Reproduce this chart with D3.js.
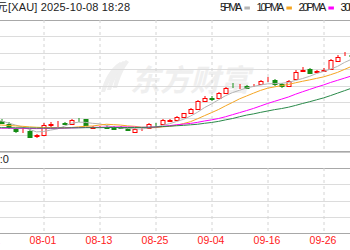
<!DOCTYPE html>
<html>
<head>
<meta charset="utf-8">
<script src="https://cdn.jsdelivr.net/npm/d3@7"></script>
<style>
  body { margin: 0; background: #fff; }
  svg { display: block; }
</style>
</head>
<body>
<svg id="drawing_region"></svg>
<script>
// daily candles, 07-22 .. 10-02
const dates = ["07-22","07-23","07-24","07-25","07-28","07-29","07-30","07-31","08-01","08-04",
  "08-05","08-06","08-07","08-08","08-11","08-12","08-13","08-14","08-15","08-18",
  "08-19","08-20","08-21","08-22","08-25","08-26","08-27","08-28","08-29","09-01",
  "09-02","09-03","09-04","09-05","09-08","09-09","09-10","09-11","09-12","09-15",
  "09-16","09-17","09-18","09-19","09-22","09-23","09-24","09-25","09-26","09-29",
  "09-30","10-01","10-02"];
const opens = [3395,3431,3420,3396,3359,3358,3349,3309,3314,3393,
  3404,3407,3398,3429,3432,3369,3374,3376,3374,3374,
  3366,3342,3359,3366,3393,3398,3420,3427,3451,3481,
  3506,3567,3589,3586,3627,3686,3674,3674,3676,3689,
  3718,3720,3689,3679,3726,3788,3799,3779,3786,3799,
  3862,3909,3907];
const highs = [3433,3438,3432,3410,3369,3374,3358,3328,3402,3410,
  3420,3413,3435,3442,3438,3383,3380,3388,3380,3380,
  3372,3369,3372,3402,3405,3435,3435,3453,3482,3515,
  3574,3600,3600,3633,3669,3698,3691,3684,3691,3720,
  3739,3731,3698,3720,3790,3812,3808,3797,3805,3874,
  3900,3929,3918];
const lows = [3385,3381,3398,3361,3334,3330,3293,3295,3310,3376,
  3378,3391,3391,3413,3383,3361,3365,3359,3354,3360,
  3348,3337,3350,3361,3376,3391,3409,3422,3447,3476,
  3501,3559,3570,3581,3623,3662,3658,3658,3667,3684,
  3706,3680,3665,3673,3720,3779,3764,3772,3779,3794,
  3856,3896,3889];
const closes = [3431,3387,3407,3374,3349,3361,3300,3314,3391,3398,
  3407,3398,3427,3425,3391,3374,3376,3372,3359,3366,
  3354,3364,3363,3396,3388,3427,3424,3447,3476,3508,
  3567,3591,3584,3623,3660,3682,3678,3665,3680,3713,
  3722,3691,3676,3715,3781,3792,3770,3783,3790,3867,
  3891,3913,3899];

// moving averages
const ma5 = [3428,3425,3420,3405,3390,3376,3358,3340,3343,3353,
  3362,3382,3404,3411,3410,3403,3399,3388,3374,3369,
  3365,3363,3361,3369,3373,3388,3400,3416,3432,3456,
  3484,3518,3545,3575,3605,3628,3645,3662,3673,3684,
  3692,3694,3696,3703,3717,3731,3747,3768,3783,3800,
  3820,3849,3872];
const ma10 = [3395,3393,3390,3387,3384,3381,3377,3374,3372,3371,
  3369,3370,3372,3377,3381,3383,3390,3396,3393,3390,
  3384,3381,3374,3372,3371,3377,3381,3389,3401,3415,
  3436,3459,3481,3504,3531,3556,3582,3603,3624,3644,
  3660,3670,3679,3688,3700,3711,3721,3732,3743,3759,
  3776,3798,3820];
const ma20 = [3368,3368,3367,3367,3366,3366,3365,3364,3365,3366,
  3367,3368,3369,3371,3372,3373,3374,3375,3376,3377,
  3376,3375,3373,3374,3376,3380,3386,3392,3397,3402,
  3410,3420,3428,3438,3451,3466,3481,3496,3512,3530,
  3548,3564,3580,3596,3616,3634,3651,3668,3684,3702,
  3718,3734,3750];
const ma30 = [3372,3372,3371,3371,3370,3370,3369,3368,3368,3368,
  3369,3369,3370,3370,3371,3371,3371,3372,3372,3372,
  3372,3372,3373,3374,3376,3379,3382,3385,3388,3392,
  3396,3403,3409,3417,3428,3438,3451,3463,3472,3483,
  3493,3503,3511,3521,3534,3548,3561,3575,3589,3606,
  3624,3642,3660];

const tickLabels = ["07-22","08-01","08-13","08-25","09-04","09-16","09-26"];
const maNames = ["5PMA","10PMA","20PMA","30PMA"];
const volumes = [];   // volume panel is empty, header shows 0
const titleName = "黄金美元";
const titleRest = "[XAU] 2025-10-08 18:28";

const W = 350, H = 250;
const maColors = ["#b4b4b4", "#f5a623", "#ff00ff", "#2a8a4a"];
const upColor = "#ff0000", downColor = "#148c14";

const svg = d3.select('#drawing_region')
    .attr('width', W)
    .attr('height', H)
    .style('font-family', 'SimSun, "Liberation Sans", "Noto Sans CJK SC", sans-serif');

const main = {top: 20, bottom: 151};
const vol = {top: 168, bottom: 233, header: 151};

const x = d3.scalePoint()
    .domain(dates)
    .range([-12.5, -12.5 + 7 * (dates.length - 1)]);

const y = d3.scaleLinear()
    .domain([3200, 4160])
    .range([main.bottom, main.top]);

const yVol = d3.scaleLinear()
    .domain([0, 4])
    .range([vol.bottom, vol.top]);

// watermark
const wm = svg.append('g').attr('fill', '#efefef').attr('stroke', 'none');
[0, 1, 2].forEach(k => {
    wm.append('path')
        .attr('d', `M${101 + k * 6},${92 - k * 2} C${104 + k * 6},${80 - k * 3} ${110 + k * 5},${68 - k * 2} ${120 + k * 3},${62 - k}
                    L${123 + k * 3},${64 - k} C${114 + k * 5},${72 - k * 2} ${108 + k * 6},${83 - k * 3} ${105 + k * 6},${92 - k * 2} Z`);
});
wm.append('text')
    .attr('x', 130)
    .attr('y', 91)
    .style('font-family', '"Noto Sans CJK SC", sans-serif')
    .style('font-size', '30px')
    .style('font-weight', 'bold')
    .style('font-style', 'italic')
    .text('东方财富');

// horizontal grid
const grid = svg.append('g');
const priceLines = d3.range(0, 9).map(i => 3200 + i * 120);
grid.selectAll('.hp')
    .data(priceLines)
    .enter()
    .append('line')
    .attr('x1', 0).attr('x2', W)
    .attr('y1', d => Math.round(y(d)) + 0.5)
    .attr('y2', d => Math.round(y(d)) + 0.5)
    .attr('stroke', (d, i) => (i === 0 || i === 8) ? '#a8a8a8' : '#dcdcdc');

grid.selectAll('.hv')
    .data(d3.range(0, 5))
    .enter()
    .append('line')
    .attr('x1', 0).attr('x2', W)
    .attr('y1', d => Math.round(yVol(d)) + 0.5)
    .attr('y2', d => Math.round(yVol(d)) + 0.5)
    .attr('stroke', (d, i) => (i === 0 || i === 4) ? '#a8a8a8' : '#dcdcdc');

// vertical dashed grid at labelled dates
[[main.top, main.bottom], [vol.top, vol.bottom]].forEach(([a, b]) => {
    grid.selectAll(null)
        .data(tickLabels)
        .enter()
        .append('line')
        .attr('x1', d => x(d) + 0.5).attr('x2', d => x(d) + 0.5)
        .attr('y1', a).attr('y2', b)
        .attr('stroke', '#d4d4d4')
        .attr('stroke-dasharray', '3,3');
});

// candles
const candles = dates.map((d, i) => ({date: d, o: opens[i], h: highs[i], l: lows[i], c: closes[i]}));
const cg = svg.append('g');
const k = cg.selectAll('g')
    .data(candles)
    .enter()
    .append('g')
    .attr('stroke', d => d.c >= d.o ? upColor : downColor);

k.append('line')
    .attr('x1', d => x(d.date) + 0.5).attr('x2', d => x(d.date) + 0.5)
    .attr('y1', d => Math.round(y(d.h)))
    .attr('y2', d => Math.round(y(d.l)));

k.append('rect')
    .attr('x', d => x(d.date) - 2 + 0.5)
    .attr('width', 4)
    .attr('y', d => Math.round(y(Math.max(d.o, d.c))) + 0.5)
    .attr('height', d => Math.max(0, Math.round(y(Math.min(d.o, d.c))) - Math.round(y(Math.max(d.o, d.c)))))
    .attr('fill', d => d.c >= d.o ? '#fff' : downColor);

// moving averages
const line = d3.line()
    .x((d, i) => x(dates[i]))
    .y(d => y(d));
[ma5, ma10, ma20, ma30].forEach((s, i) => {
    svg.append('path')
        .datum(s)
        .attr('d', line)
        .attr('fill', 'none')
        .attr('stroke', maColors[i])
        .attr('stroke-width', 1);
});

// blank out header strip of the volume panel
svg.append('rect')
    .attr('x', 0).attr('y', main.bottom + 1)
    .attr('width', W).attr('height', vol.top - main.bottom - 1)
    .attr('fill', '#fff');
svg.append('line')
    .attr('x1', 0).attr('x2', W)
    .attr('y1', main.bottom + 1.5).attr('y2', main.bottom + 1.5)
    .attr('stroke', '#c8c8c8');

svg.append('text')
    .attr('x', 9)
    .attr('y', 163)
    .attr('text-anchor', 'end')
    .style('font-size', '11px')
    .attr('fill', '#222')
    .text('成交量:' + volumes.length);

// date axis
const axis = svg.append('g')
    .attr('transform', `translate(0, ${vol.bottom})`)
    .call(d3.axisBottom(x).tickValues(tickLabels).tickSize(0).tickPadding(4));
axis.select('.domain').remove();
axis.selectAll('text')
    .attr('fill', '#ff2020')
    .attr('dx', -1)
    .style('font-family', '"Liberation Sans", sans-serif')
    .style('font-size', '10.5px');

// title
svg.append('text')
    .attr('x', 7.5)
    .attr('y', 11)
    .attr('text-anchor', 'end')
    .style('font-size', '11px')
    .attr('fill', '#222')
    .text(titleName);
svg.append('text')
    .attr('x', 8)
    .attr('y', 11)
    .style('font-size', '11px')
    .style('font-family', '"Liberation Sans", sans-serif')
    .attr('fill', '#222')
    .attr('textLength', 122)
    .text(titleRest);

// legend
let lx = 220;
const lg = svg.append('g');
maNames.forEach((name, i) => {
    const tw = name.length * 5.6;
    lg.append('text')
        .attr('x', lx)
        .attr('y', 11)
        .style('font-size', '11px')
        .style('font-family', '"Liberation Sans", sans-serif')
        .attr('fill', '#222')
        .attr('textLength', tw)
        .text(name);
    lg.append('rect')
        .attr('x', lx + tw + 2)
        .attr('y', 6.5)
        .attr('width', 5.5)
        .attr('height', 3)
        .attr('fill', maColors[i]);
    lx += tw + 2 + 5.5 + 6.5;
});
</script>
</body>
</html>
